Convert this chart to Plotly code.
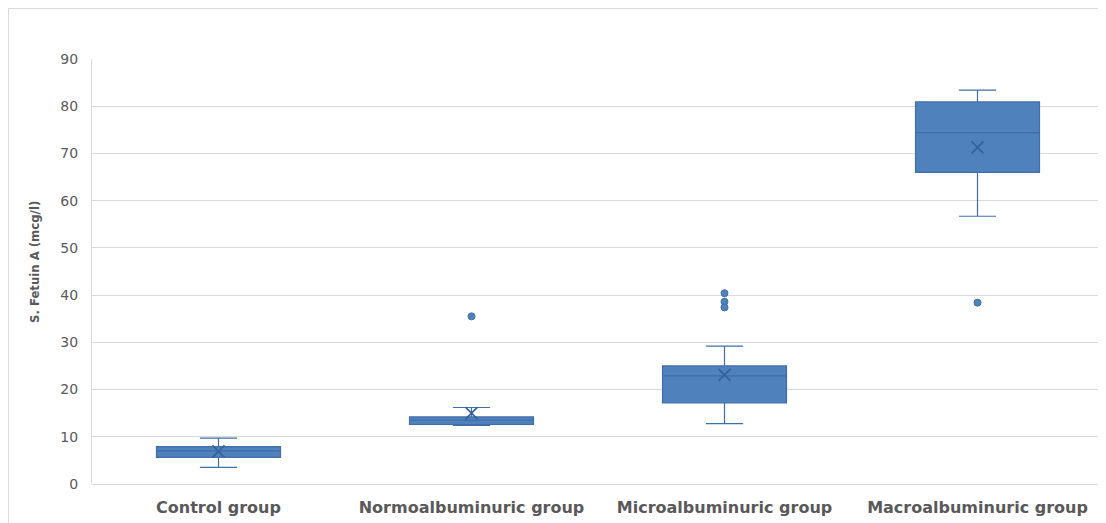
import plotly.graph_objects as go

categories = ["Control group", "Normoalbuminuric group", "Microalbuminuric group", "Macroalbuminuric group"]
lower_whisker = [3.5, 12.4, 12.8, 56.7]
q1_vals = [5.65, 12.6, 17.2, 66.0]
median_vals = [7.0, 13.5, 22.9, 74.4]
q3_vals = [7.9, 14.2, 25.0, 80.9]
upper_whisker = [9.7, 16.2, 29.2, 83.4]
mean_vals = [6.9, 15.0, 23.1, 71.3]

outlier_cats = ["Normoalbuminuric group", "Microalbuminuric group", "Microalbuminuric group",
                "Microalbuminuric group", "Macroalbuminuric group"]
outlier_vals = [35.5, 40.4, 38.6, 37.4, 38.4]

y_ticks = [0, 10, 20, 30, 40, 50, 60, 70, 80, 90]

FILL = "#4F81BD"
LINE = "#3F6EA8"
GRID = "#D9D9D9"
TXT = "#595959"

fig = go.Figure()
fig.add_trace(go.Box(
    x=categories, q1=q1_vals, median=median_vals, q3=q3_vals,
    lowerfence=lower_whisker, upperfence=upper_whisker,
    fillcolor=FILL, line=dict(color=LINE, width=1.2),
    width=0.49, whiskerwidth=0.3, boxpoints=False, hoverinfo="skip",
    showlegend=False,
))
fig.add_trace(go.Scatter(
    x=categories, y=mean_vals, mode="markers",
    marker=dict(symbol="x-thin-open", size=12, color="#36609A", line=dict(color="#36609A", width=1.6)),
    showlegend=False, hoverinfo="skip",
))
fig.add_trace(go.Scatter(
    x=outlier_cats, y=outlier_vals, mode="markers",
    marker=dict(symbol="circle", size=7, color=FILL, line=dict(color=LINE, width=1)),
    showlegend=False, hoverinfo="skip",
))

# page places the figure 8px from top-left; offsets below are in screen pixels
OFF = 8
W, H = 1106 - OFF, 523 - OFF
L, R, T, B = 92 - OFF, 2, 59 - OFF, 39
pw, ph = W - L - R, H - T - B

def px_x(p):
    return (p - OFF - L) / pw

def px_y(p):
    return (523 - B - p) / ph

fig.update_layout(
    width=W, height=H,
    margin=dict(l=L, r=R, t=T, b=B, autoexpand=False),
    paper_bgcolor="white", plot_bgcolor="white",
    xaxis=dict(
        type="category", categoryorder="array", categoryarray=categories,
        range=[-0.5, 3.5], showgrid=False, showline=False, zeroline=False,
        tickfont=dict(family="DejaVu Sans", size=16, color=TXT, weight="bold"),
        ticks="", ticklabelstandoff=12, automargin=False,
    ),
    yaxis=dict(
        range=[0, 90], tickvals=y_ticks, showgrid=True, gridcolor=GRID, gridwidth=1,
        zeroline=True, zerolinecolor=GRID, zerolinewidth=1,
        showline=True, linecolor=GRID, linewidth=1,
        tickfont=dict(family="DejaVu Sans", size=14, color=TXT),
        ticks="", ticklabelstandoff=10, automargin=False,
    ),
    annotations=[dict(
        text="<b>S. Fetuin A (mcg/l)</b>", xref="paper", yref="paper",
        x=px_x(34), y=px_y(262), textangle=-90, showarrow=False,
        xanchor="center", yanchor="middle",
        font=dict(family="DejaVu Sans Condensed, Open Sans", size=13, color=TXT),
    )],
    shapes=[dict(
        type="line", xref="paper", yref="paper",
        x0=px_x(8.5), x1=px_x(8.5), y0=px_y(540), y1=px_y(8.5),
        line=dict(color=GRID, width=1), layer="below",
    ), dict(
        type="line", xref="paper", yref="paper",
        x0=px_x(8.5), x1=px_x(1120), y0=px_y(8.5), y1=px_y(8.5),
        line=dict(color=GRID, width=1), layer="below",
    )],
)

fig.write_html("out.html")
